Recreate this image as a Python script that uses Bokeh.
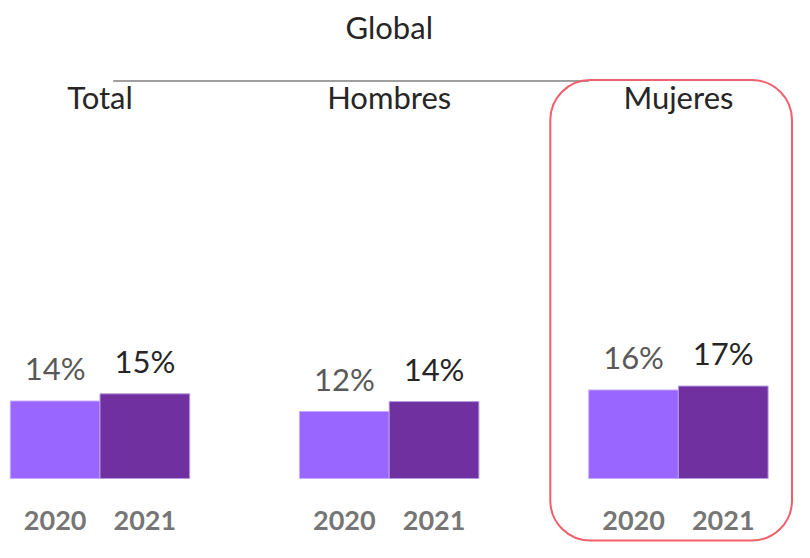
from bokeh.plotting import figure
from bokeh.models import Range1d, BoxAnnotation, ColumnDataSource
from bokeh.core.properties import value
from bokeh.embed import file_html
from bokeh.resources import INLINE

# ---------------- data ----------------
title_text = "Global"
groups = ["Total", "Hombres", "Mujeres"]
years = ["2020", "2021"]
values_2020 = [14.0, 12.1, 16.0]
values_2021 = [15.3, 13.9, 16.7]
highlight_group = "Mujeres"

# ---------------- layout constants ----------------
W, H = 794, 542
PX_X = 89.7          # px per x unit (one bar = 1 unit)
PX_Y = 5.535         # px per percentage point
ZERO_Y = 478         # px from top of canvas to the baseline of bars
LEFT = 9.8           # px of left edge of first bar
GROUP_PITCH = 289.2 / PX_X

FONT = value("Lato")
C_2020 = "#9966FF"
C_2021 = "#7030A0"

p = figure(width=W, height=H, output_backend="svg", toolbar_location=None,
           x_range=Range1d(-LEFT / PX_X, (W - LEFT) / PX_X),
           y_range=Range1d(-(H - ZERO_Y) / PX_Y, ZERO_Y / PX_Y),
           min_border=0, outline_line_color=None, title=None)
p.axis.visible = False
p.grid.visible = False
p.background_fill_color = "white"
p.border_fill_color = "white"

def ydata(px_from_top):
    return (ZERO_Y - px_from_top) / PX_Y

def xdata(px_from_left):
    return (px_from_left - LEFT) / PX_X

# bars
xs20 = [g * GROUP_PITCH + 0.5 for g in range(len(groups))]
xs21 = [g * GROUP_PITCH + 1.5 for g in range(len(groups))]
src20 = ColumnDataSource(dict(x=xs20, top=values_2020,
                              label=[f"{round(v)}%" for v in values_2020],
                              year=[years[0]] * len(groups)))
src21 = ColumnDataSource(dict(x=xs21, top=values_2021,
                              label=[f"{round(v)}%" for v in values_2021],
                              year=[years[1]] * len(groups)))

p.vbar(x="x", top="top", bottom=0, width=1.0, source=src20,
       fill_color=C_2020, line_color="#c8aaff", line_width=1)
p.vbar(x="x", top="top", bottom=0, width=1.0, source=src21,
       fill_color=C_2021, line_color="#b59ae0", line_width=1)

# value labels
p.text(x="x", y="top", text="label", source=src20, text_align="center",
       text_baseline="alphabetic", y_offset=-33, text_font=FONT,
       text_font_size="31px", text_color="#595959")
p.text(x="x", y="top", text="label", source=src21, text_align="center",
       text_baseline="alphabetic", y_offset=-33, text_font=FONT,
       text_font_size="31px", text_color="#262626")

# year labels
p.text(x="x", y=0, text="year", source=src20, text_align="center",
       text_baseline="alphabetic", y_offset=42, text_font=FONT,
       text_font_size="27px", text_font_style="bold", text_color="#767676")
p.text(x="x", y=0, text="year", source=src21, text_align="center",
       text_baseline="alphabetic", y_offset=42, text_font=FONT,
       text_font_size="27px", text_font_style="bold", text_color="#767676")

# group headings
gx = [g * GROUP_PITCH + 1.0 for g in range(len(groups))]
p.text(x=gx, y=[ydata(96)] * len(groups), text=groups, text_align="center",
       text_baseline="alphabetic", text_font=FONT, text_font_size="31px",
       text_color="#262626")

# title
p.text(x=[GROUP_PITCH + 1.0], y=[ydata(26)], text=[title_text],
       text_align="center", text_baseline="alphabetic", text_font=FONT,
       text_font_size="31px", text_color="#262626")

# separator line under title
p.segment(x0=[xdata(112.7)], y0=[ydata(80.6)],
          x1=[2 * GROUP_PITCH], y1=[ydata(80.6)],
          line_color="#7f7f7f", line_width=1.5)

# highlight box around Mujeres
hi = groups.index(highlight_group)
box = BoxAnnotation(left=xdata(549.8), right=xdata(791.5),
                    top=ydata(79.6), bottom=ydata(540),
                    fill_alpha=0, line_color="#F0606C", line_alpha=1.0,
                    line_width=2, border_radius=40)
p.add_layout(box)

open("out.html", "w").write(file_html(p, INLINE))
